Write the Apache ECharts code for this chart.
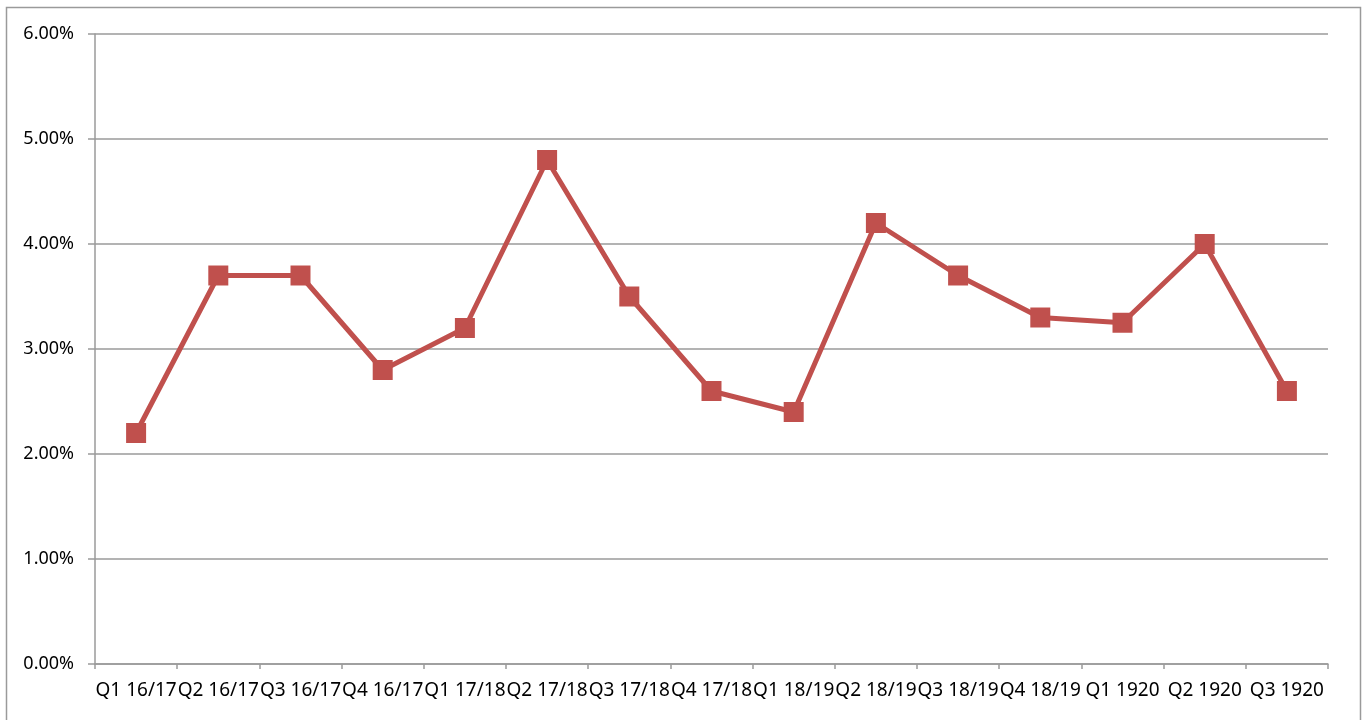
<!DOCTYPE html>
<html>
<head>
<meta charset="utf-8">
<script src="https://cdn.jsdelivr.net/npm/echarts@6/dist/echarts.min.js"></script>
<style>
  html, body { margin: 0; padding: 0; background: #fff; }
  #chart { width: 1364px; height: 720px; }
</style>
</head>
<body>
<div id="chart"></div>
<script>
// quarterly rate, line + square markers (Excel-style)
const quarters = ['Q1 16/17', 'Q2 16/17', 'Q3 16/17', 'Q4 16/17', 'Q1 17/18', 'Q2 17/18', 'Q3 17/18', 'Q4 17/18',
  'Q1 18/19', 'Q2 18/19', 'Q3 18/19', 'Q4 18/19', 'Q1 1920', 'Q2 1920', 'Q3 1920']
const rates = [2.2, 3.7, 3.7, 2.8, 3.2, 4.8, 3.5, 2.6, 2.4, 4.2, 3.7, 3.3, 3.25, 4.0, 2.6]

const grey = '#9a9a9a'
const red = '#c0504d'
const font = 'Noto Sans'

const chart = echarts.init(document.getElementById('chart'), null, { renderer: 'canvas' })
chart.setOption({
  animation: false,
  graphic: [{
    type: 'rect', left: 4, top: 5,
    shape: { width: 1354, height: 730 },
    style: { fill: 'none', stroke: grey, lineWidth: 1.5 },
  }],
  grid: { left: 95, right: 36, top: 34, bottom: 56 },
  xAxis: {
    type: 'category', data: quarters,
    axisLine: { lineStyle: { color: grey, width: 1.5 } },
    axisTick: { show: true, length: 5, lineStyle: { color: grey, width: 1.5 } },
    axisLabel: { interval: 0, color: '#000', fontFamily: font, fontSize: 19, margin: 17 },
  },
  yAxis: {
    type: 'value', min: 0, max: 6, interval: 1,
    axisLine: { show: true, lineStyle: { color: grey, width: 1.5 } },
    axisTick: { show: true, length: 7, lineStyle: { color: grey, width: 1.5 } },
    splitLine: { lineStyle: { color: grey, width: 1.5 } },
    axisLabel: { color: '#000', fontFamily: font, fontSize: 18, margin: 21,
      formatter: v => v.toFixed(2) + '%' },
  },
  series: [{
    type: 'line', data: rates,
    symbol: 'rect', symbolSize: 20,
    lineStyle: { color: red, width: 5 },
    itemStyle: { color: red },
  }],
})
</script>
</body>
</html>
